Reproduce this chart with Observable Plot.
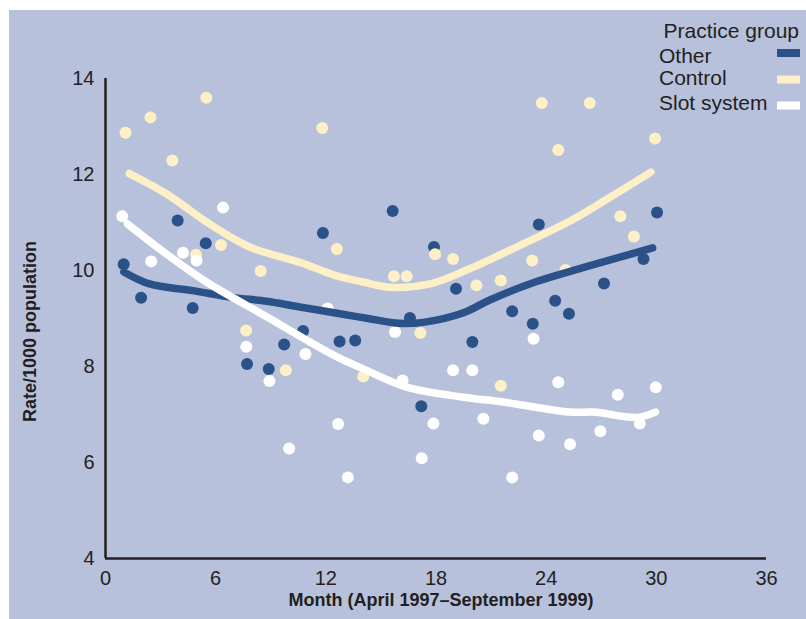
<!DOCTYPE html>
<html>
<head>
<meta charset="utf-8">
<script src="https://cdn.jsdelivr.net/npm/d3@7"></script>
<script src="https://cdn.jsdelivr.net/npm/@observablehq/plot@0.6"></script>
<style>
  body { margin: 0; background: #ffffff; }
  #wrap { position: relative; width: 806px; height: 619px; overflow: hidden;
          font-family: "Liberation Sans", Arial, Helvetica, sans-serif; }
  #bg { position: absolute; left: 9px; top: 10px; right: 0; bottom: 0; background: #b8c1db; }
  #chart { position: absolute; left: 0; top: 0; }
  #legend { position: absolute; left: 0; top: 0; }
</style>
</head>
<body>
<div id="wrap"><div id="bg"></div><div id="chart"></div><svg id="legend" width="806" height="130"></svg></div>
<script>
// ---- data (month, rate/1000) ----
const monthTicks = [0, 6, 12, 18, 24, 30, 36];
const rateTicks = [4, 6, 8, 10, 12, 14];
const groups = ["Other", "Control", "Slot system"];
const groupColors = ["#2b5189", "#fdf0c6", "#ffffff"];

const otherPoints = [[0.99,10.13],[1.94,9.43],[3.93,11.04],[4.75,9.22],[5.46,10.57],[7.71,8.05],[8.89,7.95],[9.73,8.46],[10.76,8.74],[11.84,10.78],[12.75,8.52],[13.6,8.54],[15.64,11.24],[16.58,9.01],[17.2,7.17],[17.89,10.49],[19.09,9.62],[19.98,8.51],[22.15,9.15],[23.27,8.89],[23.6,10.96],[24.49,9.37],[25.24,9.10],[27.15,9.73],[29.3,10.24],[30.04,11.21]];
const controlPoints = [[1.09,12.87],[2.45,13.19],[3.64,12.29],[4.93,10.33],[5.49,13.6],[6.29,10.53],[7.66,8.75],[8.45,9.99],[9.82,7.92],[11.8,12.97],[12.6,10.45],[14.04,7.79],[15.71,9.88],[16.4,9.88],[17.15,8.70],[17.95,10.34],[18.93,10.24],[20.2,9.69],[21.53,9.79],[21.53,7.60],[23.24,10.21],[23.76,13.49],[24.66,12.51],[25.05,10.01],[26.37,13.49],[28.04,11.13],[28.78,10.71],[29.93,12.75]];
const slotPoints = [[0.91,11.13],[2.49,10.19],[4.22,10.37],[4.96,10.21],[6.4,11.31],[7.67,8.41],[8.93,7.70],[10.0,6.29],[10.89,8.26],[12.1,9.21],[12.67,6.80],[13.2,5.69],[15.77,8.72],[16.18,7.71],[17.22,6.09],[17.86,6.81],[18.93,7.92],[19.98,7.92],[20.58,6.91],[22.15,5.69],[23.31,8.58],[23.6,6.56],[24.66,7.67],[25.3,6.38],[26.95,6.65],[27.9,7.41],[29.1,6.81],[29.97,7.57]];

const otherTrend = [[1,9.97],[2.4,9.72],[4.76,9.58],[6.94,9.44],[8.77,9.36],[10.58,9.24],[12.77,9.1],[14.3,9.0],[16,8.9],[17.3,8.92],[19.5,9.12],[20.9,9.38],[23.4,9.76],[26.1,10.07],[29.8,10.47]];
const controlTrend = [[1.3,12.02],[3.31,11.6],[5.67,10.97],[7.85,10.49],[10.58,10.17],[12.5,9.9],[14.04,9.76],[15.5,9.65],[17.68,9.72],[19.8,10.03],[22.5,10.51],[25.3,11.03],[27.5,11.53],[29.7,12.05]];
const slotTrend = [[1.2,10.97],[3.3,10.35],[5.5,9.76],[8.8,9.03],[12.5,8.22],[14.04,7.95],[16.4,7.57],[19.5,7.36],[21.67,7.26],[25.3,7.05],[26.6,7.05],[28.95,6.94],[29.95,7.05]];

const xLabel = "Month (April 1997\u2013September 1999)";
const yLabel = "Rate/1000 population";
const legendTitle = "Practice group";

// ---- build tables ----
const tag = (arr, g) => arr.map(([m, r]) => ({ group: g, m, r }));
const points = [...tag(otherPoints, "Other"), ...tag(controlPoints, "Control"), ...tag(slotPoints, "Slot system")];
const trends = [...tag(otherTrend, "Other"), ...tag(controlTrend, "Control"), ...tag(slotTrend, "Slot system")];

const ink = "#231f20";
const chart = Plot.plot({
  width: 806, height: 619,
  marginLeft: 105, marginRight: 40, marginTop: 78, marginBottom: 61,
  style: { background: "transparent", fontFamily: '"Liberation Sans", Arial, Helvetica, sans-serif', fontSize: "20px", color: ink },
  x: { domain: [0, 36], ticks: monthTicks, tickSize: 0, tickPadding: 12, label: null },
  y: { domain: [4, 14], ticks: rateTicks, tickSize: 0, tickPadding: 11, label: null },
  color: { domain: groups, range: groupColors },
  marks: [
    Plot.dot(points, { x: "m", y: "r", fill: "group", r: 6 }),
    Plot.line(trends, { x: "m", y: "r", stroke: "group", z: "group", strokeWidth: 7.5, curve: "catmull-rom" }),
    Plot.ruleX([0], { stroke: ink, strokeWidth: 2.5 }),
    Plot.ruleY([4], { stroke: ink, strokeWidth: 2.5 }),
    Plot.text([yLabel], { text: d => d, frameAnchor: "left", textAnchor: "middle", dx: -75, dy: 13, rotate: -90, fontSize: 18, fontWeight: "bold", fill: ink }),
    Plot.text([xLabel], { text: d => d, frameAnchor: "bottom", textAnchor: "middle", dx: 5, dy: 47, fontSize: 18, fontWeight: "bold", fill: ink })
  ]
});
document.getElementById("chart").append(chart);

// ---- legend ----
const lg = d3.select("#legend").style("font-family", '"Liberation Sans", Arial, Helvetica, sans-serif');
lg.append("text").attr("x", 799).attr("y", 38).attr("text-anchor", "end")
  .attr("font-size", 21).attr("fill", ink).text(legendTitle);
const baselines = [63, 85, 110];
const swatchY = [49, 75.5, 101.5];
groups.forEach((g, i) => {
  lg.append("text").attr("x", 659).attr("y", baselines[i]).attr("font-size", 21).attr("fill", ink).text(g);
  lg.append("rect").attr("x", 777).attr("y", swatchY[i]).attr("width", 23).attr("height", 8).attr("fill", groupColors[i]);
});
</script>
</body>
</html>
